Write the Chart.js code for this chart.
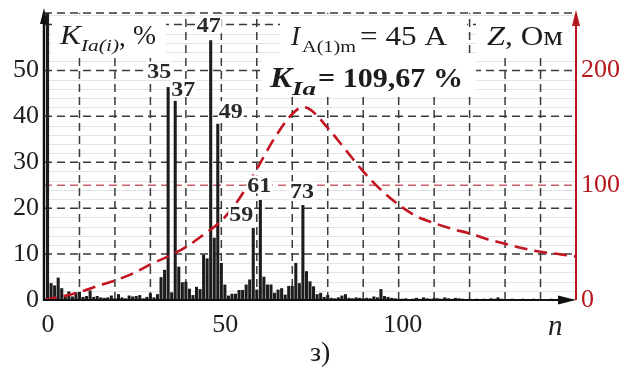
<!DOCTYPE html>
<html><head><meta charset="utf-8">
<script src="https://cdn.jsdelivr.net/npm/chart.js@4/dist/chart.umd.min.js"></script>
<style>html,body{margin:0;padding:0;background:#fff}#wrap{width:644px;height:367px}</style>
</head><body><div id="wrap"><canvas id="c" width="644" height="367"></canvas></div>
<script>
// ---------- data ----------
const harmonicN = [1,2,3,4,5,6,7,8,9,10,11,12,13,14,15,16,17,18,19,20,21,22,23,24,25,26,27,28,29,30,
31,32,33,34,35,36,37,38,39,40,41,42,43,44,45,46,47,48,49,50,51,52,53,54,55,56,57,58,59,60,
61,62,63,64,65,66,67,68,69,70,71,72,73,74,75,76,77,78,79,80,81,82,83,84,85,86,87,88,89,90,
91,92,93,94,95,96,97,98,99,100,101,102,103,104,105,106,107,108,109,110,111,112,113,114,115,116,117,118,119,120,
121,122,123,124,125,126,127,128,129,130,131,132,133,134,135,136,137,138,139,140,141,142,143,144,145,146,147,148,149,150];
const kIa = [100,3.6,3.1,4.8,2.5,0.9,1.8,0.7,1.6,1.7,
0.6,0.8,2.0,0.6,0.8,0.5,0.4,0.5,0.9,0.3,
1.2,0.5,0.3,0.9,0.7,0.8,1.0,0.3,0.6,1.4,
0.5,1.2,4.9,6.5,46.3,1.6,43.3,7.2,3.8,3.9,
2.4,1.0,2.8,2.3,9.8,9.0,56.5,13.5,38.3,8.0,
3.3,0.9,1.3,1.3,2.1,2.1,3.3,4.4,15.6,2.2,
21.7,5.0,3.3,3.3,1.5,2.2,2.5,1.1,3.0,3.0,
8.0,3.6,20.6,6.2,4.0,2.9,1.2,1.5,0.6,1.0,
0.4,0.3,0.5,0.9,1.2,0.4,0.3,0.5,0.4,0.3,
0.4,0.3,0.7,0.5,2.3,0.8,0.6,0.4,0.3,0.2,
0.2,0.3,0.1,0.2,0.4,0.2,0.5,0.3,0.2,0.4,
0.3,0.2,0.5,0.3,0.2,0.4,0.3,0.2,0.1,0.2,
0.1,0.2,0.1,0.2,0.1,0.3,0.2,0.5,0.2,0.1,
0.1,0.2,0.1,0.1,0.2,0.1,0.1,0.2,0.1,0.1,
0.1,0.1,0.2,0.1,0.1,0.1,0.2,0.1,0.1,0.1];
const zN   = [0,5,10,15,20,25,30,35,40,45,50,55,60,65,70,73,75,80,85,90,95,100,105,110,115,120,125,130,135,140,145,150];
const zOhm = [0,3,7,12,17,23,31,38,46,57,69,88,114,141,162,168,166,150,131,112,96,83,73,67,62,58,53,49,45,42,40,38];
const labeledHarmonics = [35,37,47,49,59,61,73];
const yTickValues  = [0,10,20,30,40,50];
const y2TickValues = [0,100,200];
const xTickValues  = [0,50,100,143];
const xTickLabels  = ['0','50','100','n'];
const xGridLines = [10,20,30,40,50,60,70,80,90,100,110,120,130,140];
const yGridLines = [10,20,30,40,50,60];
const yMinorLines = [2,4,6,8,12,14,16,18,22,24,26,28,32,34,36,38,42,44,46,48,52,54,56,58,62];

// ---------- styles ----------
const SERIF = '"Liberation Serif", "Times New Roman", serif';
const RED = '#b8161f';
const LABEL_OFFSETS = {35:[-9,-17],37:[8,-13],47:[-2,-16],49:[13,-14],59:[-12,-15],61:[-1,-16],73:[-1,-15]};

function fitText(ctx, str, x, base, w, font, color){
  ctx.save();
  ctx.font = font; ctx.fillStyle = color; ctx.textAlign = 'left'; ctx.textBaseline = 'alphabetic';
  const m = ctx.measureText(str).width;
  const sx = w ? w / m : 1;
  ctx.translate(x, base); ctx.scale(sx, 1); ctx.fillText(str, 0, 0);
  ctx.restore();
}

const deco = {
  id: 'deco',
  beforeDatasetsDraw(chart){
    const {ctx, chartArea: a, scales: {x, y, y2}} = chart;
    ctx.save();
    ctx.strokeStyle = '#e3e3e3'; ctx.lineWidth = 1;
    yMinorLines.forEach(v => { const p = Math.round(y.getPixelForValue(v)) + 0.5;
      ctx.beginPath(); ctx.moveTo(a.left, p); ctx.lineTo(a.right, p); ctx.stroke(); });
    ctx.setLineDash([8,5]); ctx.strokeStyle = '#3a3a3a'; ctx.lineWidth = 1.5;
    xGridLines.forEach(v => { const p = x.getPixelForValue(v);
      ctx.beginPath(); ctx.moveTo(p, a.bottom); ctx.lineTo(p, a.top); ctx.stroke(); });
    yGridLines.forEach(v => { const p = y.getPixelForValue(v);
      ctx.beginPath(); ctx.moveTo(a.left, p); ctx.lineTo(a.right, p); ctx.stroke(); });
    ctx.beginPath(); ctx.moveTo(a.left, a.top); ctx.lineTo(a.right, a.top); ctx.stroke();
    ctx.strokeStyle = '#c8606a';
    const p100 = y2.getPixelForValue(100);
    ctx.beginPath(); ctx.moveTo(a.left, p100); ctx.lineTo(a.right, p100); ctx.stroke();
    ctx.restore();
  },
  afterDatasetsDraw(chart){
    const {ctx, scales: {x, y}} = chart;
    ctx.save();
    labeledHarmonics.forEach(n => {
      const v = kIa[harmonicN.indexOf(n)];
      const [dx, dy] = LABEL_OFFSETS[n];
      const cx = x.getPixelForValue(n) + dx, cy = y.getPixelForValue(v) + dy;
      ctx.fillStyle = '#fff'; ctx.fillRect(cx - 13, cy - 9, 26, 18);
      fitText(ctx, String(n), cx - 12, cy + 7.5, 24, `bold 21px ${SERIF}`, '#2a2a2a');
    });
    ctx.fillStyle = '#fff';
    [[52,16,114,39],[280,16,187,41],[262,57,214,40],[476,16,98,38]].forEach(r => ctx.fillRect(r[0],r[1],r[2],r[3]));
    const C = '#1c1c1c';
    fitText(ctx, 'K', 60, 44, 21, `italic 27px ${SERIF}`, C);
    fitText(ctx, 'Ia(i)', 81, 51, 38, `italic 17px ${SERIF}`, C);
    fitText(ctx, ',', 119, 46, 0, `27px ${SERIF}`, C);
    fitText(ctx, '%', 133, 44, 23, `27px ${SERIF}`, C);
    fitText(ctx, 'I', 291, 45, 0, `italic 27px ${SERIF}`, C);
    fitText(ctx, 'A(1)m', 302, 52, 54, `17px ${SERIF}`, C);
    fitText(ctx, '= 45 A', 360, 45, 87, `27px ${SERIF}`, C);
    fitText(ctx, 'Z', 487, 45, 18, `italic 27px ${SERIF}`, C);
    fitText(ctx, ', Ом', 505, 45, 58, `27px ${SERIF}`, C);
    fitText(ctx, 'K', 270, 87, 22, `bold italic 29px ${SERIF}`, C);
    fitText(ctx, 'Ia', 292, 95, 24, `bold italic 18px ${SERIF}`, C);
    fitText(ctx, '= 109,67 %', 318, 87, 145, `bold 28px ${SERIF}`, C);
    ctx.restore();
  },
  afterDraw(chart){
    const {ctx, chartArea: a} = chart;
    ctx.save();
    // left axis
    ctx.strokeStyle = '#111'; ctx.fillStyle = '#111'; ctx.lineWidth = 2.5;
    ctx.beginPath(); ctx.moveTo(a.left, a.bottom + 1); ctx.lineTo(a.left, 20); ctx.stroke();
    ctx.beginPath(); ctx.moveTo(a.left, 8); ctx.lineTo(a.left - 4, 24); ctx.lineTo(a.left + 4, 24); ctx.closePath(); ctx.fill();
    // bottom axis
    ctx.lineWidth = 2;
    ctx.beginPath(); ctx.moveTo(a.left, a.bottom); ctx.lineTo(a.right - 14, a.bottom); ctx.stroke();
    ctx.beginPath(); ctx.moveTo(a.right, a.bottom); ctx.lineTo(a.right - 18, a.bottom - 4.5); ctx.lineTo(a.right - 18, a.bottom + 4.5); ctx.closePath(); ctx.fill();
    // right axis
    ctx.strokeStyle = RED; ctx.fillStyle = RED; ctx.lineWidth = 2;
    ctx.beginPath(); ctx.moveTo(a.right, a.bottom); ctx.lineTo(a.right, 22); ctx.stroke();
    ctx.beginPath(); ctx.moveTo(a.right, 10); ctx.lineTo(a.right - 4, 26); ctx.lineTo(a.right + 4, 26); ctx.closePath(); ctx.fill();
    // caption
    fitText(ctx, 'з)', 310, 361, 0, `28px ${SERIF}`, '#1c1c1c');
    ctx.restore();
  }
};

function fixBox(w, h){
  return s => {
    if (w !== null) s.width = w;
    if (h !== null) s.height = h;
    s.paddingTop = 0; s.paddingBottom = 0; s.paddingLeft = 0; s.paddingRight = 0;
  };
}

new Chart(document.getElementById('c'), {
  data: {
    datasets: [
      { type: 'bar', label: 'K_Ia(i)', yAxisID: 'y', xAxisID: 'x', order: 2,
        data: harmonicN.map((n, i) => ({x: n, y: kIa[i]})),
        backgroundColor: '#1c1c1c', borderWidth: 0, barThickness: 2.4 },
      { type: 'line', label: 'Z', yAxisID: 'y2', xAxisID: 'x', order: 1,
        data: zN.map((n, i) => ({x: n, y: zOhm[i]})),
        borderColor: '#c3151f', borderWidth: 2.6, borderDash: [13,7],
        pointRadius: 0, cubicInterpolationMode: 'monotone', fill: false }
    ]
  },
  options: {
    responsive: false, animation: false, devicePixelRatio: 1,
    layout: { padding: { top: 13, left: 0, right: 0, bottom: 0 } },
    plugins: { legend: { display: false }, tooltip: { enabled: false }, title: { display: false } },
    scales: {
      x: { type: 'linear', position: 'bottom', min: 0, max: 150, offset: false,
        afterBuildTicks: s => { s.ticks = xTickValues.map(v => ({value: v})); },
        afterFit: fixBox(null, 67),
        grid: { display: false, drawTicks: false, offset: false }, border: { display: false },
        ticks: { autoSkip: false, maxRotation: 0, padding: 10, labelOffset: 4, color: '#1e1e1e',
          callback: (v) => xTickLabels[xTickValues.indexOf(v)],
          font: (c) => ({ family: SERIF, size: c.tick && c.tick.value === 143 ? 29 : 26,
                          style: c.tick && c.tick.value === 143 ? 'italic' : 'normal' }) } },
      y: { type: 'linear', position: 'left', min: 0, max: 62.5,
        afterBuildTicks: s => { s.ticks = yTickValues.map(v => ({value: v})); },
        afterFit: fixBox(44, null),
        grid: { display: false, drawTicks: false }, border: { display: false },
        ticks: { padding: 5, color: '#1e1e1e', font: { family: SERIF, size: 26 } } },
      y2: { type: 'linear', position: 'right', min: 0, max: 250,
        afterBuildTicks: s => { s.ticks = y2TickValues.map(v => ({value: v})); },
        afterFit: fixBox(68, null),
        grid: { display: false, drawTicks: false }, border: { display: false },
        ticks: { padding: 5, color: RED, font: { family: SERIF, size: 26 } } }
    }
  },
  plugins: [deco]
});
</script>
</body></html>
